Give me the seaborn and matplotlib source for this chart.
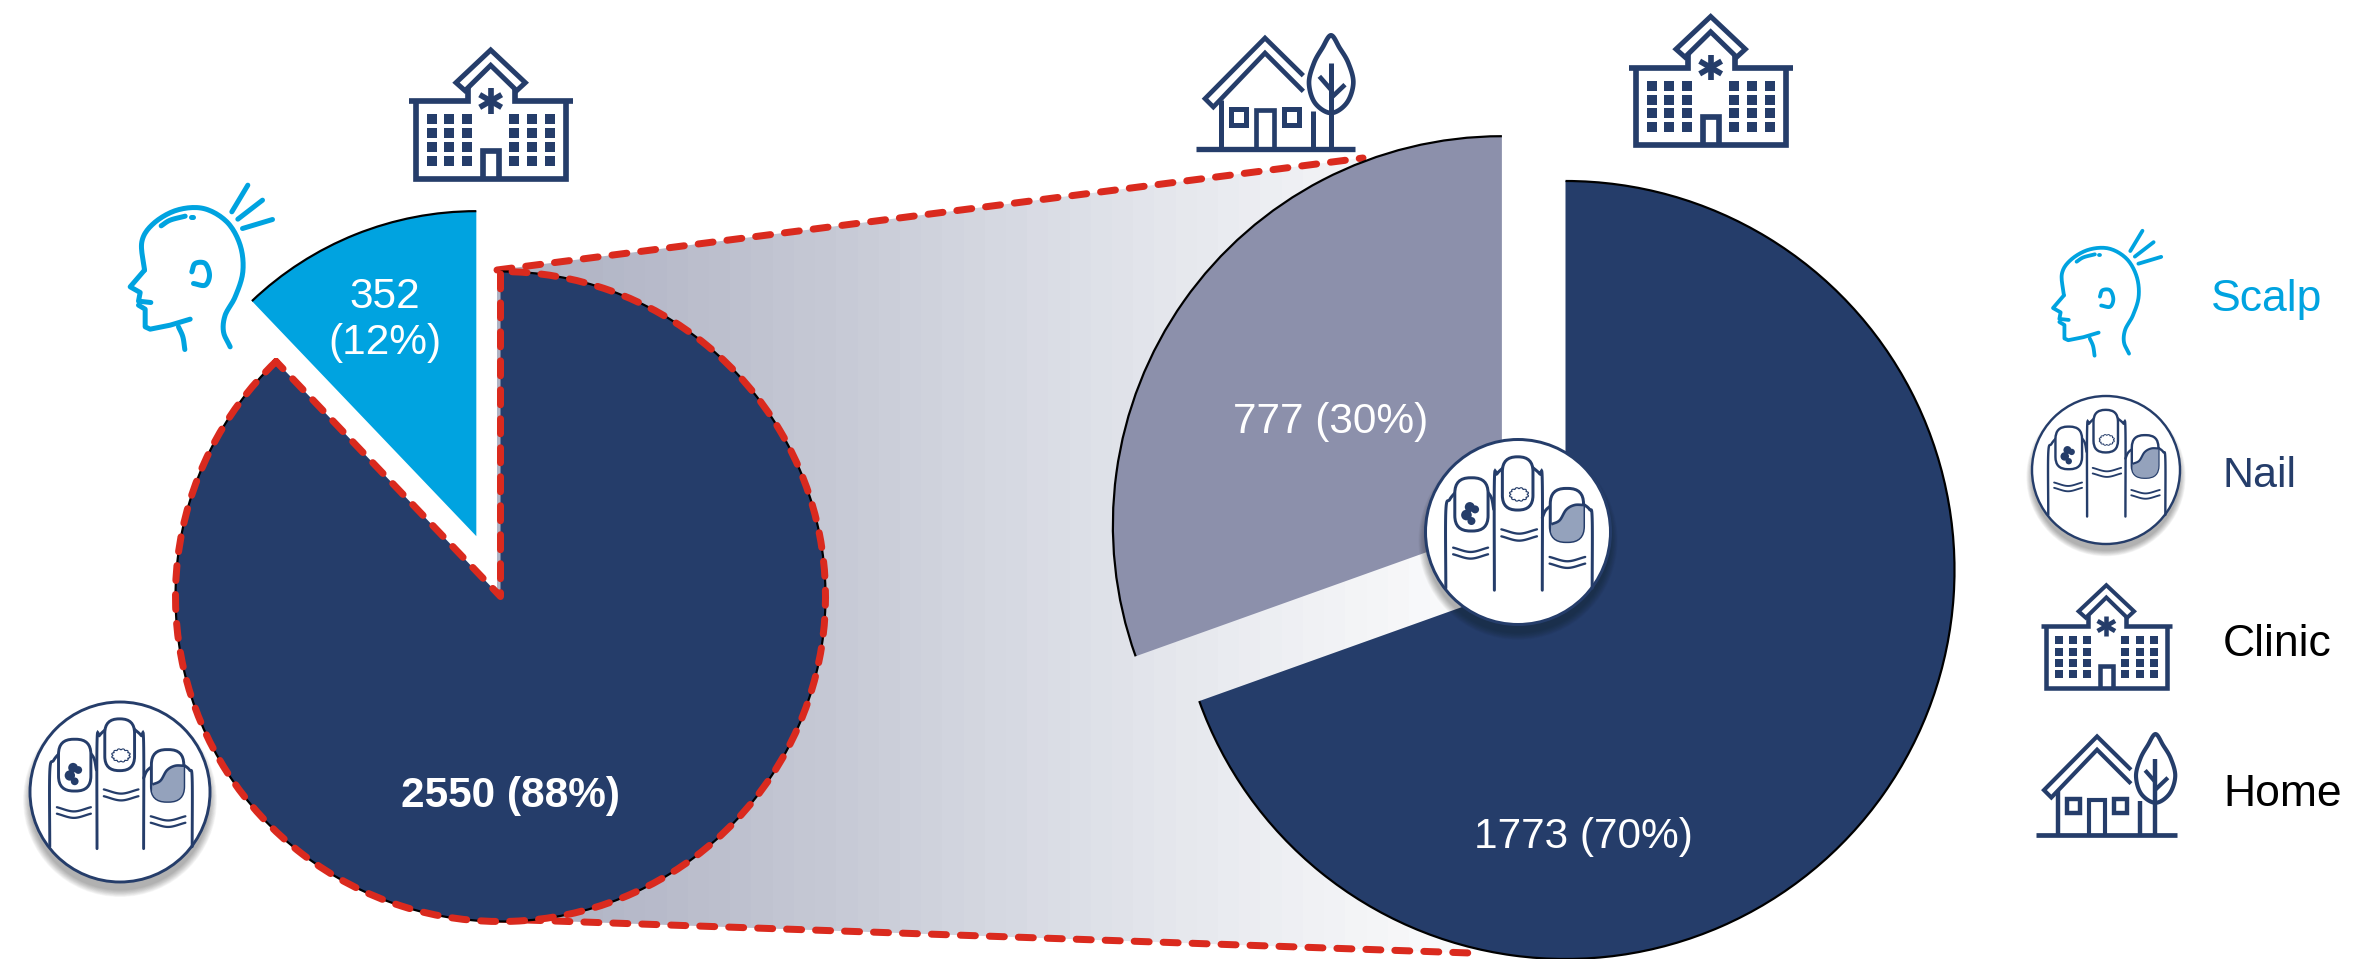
import numpy as np
import matplotlib
matplotlib.use("Agg")
import matplotlib.pyplot as plt
import matplotlib.patches as mpatches
from matplotlib.colors import ListedColormap
import seaborn as sns

# Site of infection, then place of treatment for the nail cases
site_names = ["Scalp", "Nail"]
site_counts = [352, 2550]
place_names = ["Clinic", "Home"]
place_counts = [1773, 777]
legend_labels = ["Scalp", "Nail", "Clinic", "Home"]

NAVY = "#253D6A"
CYAN = "#00A3E0"
SLATE = "#8C90AB"
RED = "#DA2A1E"
FILL = "#94A2BC"
band_stops = ["#AEB2C3", "#B9BCCB", "#C7CAD6", "#D6D9E2", "#E5E7ED", "#F2F3F6", "#FDFDFE"]

W, H = 2367, 959
sns.set_theme(style="white", font="Liberation Sans")
fig = plt.figure(figsize=(W / 100, H / 100), dpi=100, facecolor="white")


def px(v):
    return v * 0.72


def pixel_axes(zorder):
    ax = fig.add_axes([0, 0, 1, 1], zorder=zorder)
    ax.set_xlim(0, W)
    ax.set_ylim(H, 0)
    ax.axis("off")
    ax.patch.set_alpha(0)
    return ax


def pie_axes(cx, cy, r):
    span = 1.3
    return fig.add_axes(
        [(cx - span * r) / W, 1 - (cy + span * r) / H, 2 * span * r / W, 2 * span * r / H],
        zorder=2,
    )


def finish_pie(ax, wedges):
    ax.set_xlim(-1.3, 1.3)
    ax.set_ylim(-1.3, 1.3)
    ax.patch.set_alpha(0)
    for w in wedges:
        ax.add_patch(mpatches.Arc(w.center, 2 * w.r, 2 * w.r, theta1=w.theta1, theta2=w.theta2,
                                  color="black", lw=px(2.2)))


def pct(values):
    return [round(100 * v / sum(values)) for v in values]


# ---- connector between the two pies ----
back = pixel_axes(1)
outline = [(497, 270), (1363, 158), (1510, 525), (1565, 570), (1470, 953), (497, 919)]
band = sns.blend_palette(band_stops, n_colors=48)
img = back.imshow(np.linspace(0, 1, 48)[None, :], extent=(497, 1515, 960, 150),
                  cmap=ListedColormap(band), aspect="auto", zorder=1)
img.set_clip_path(mpatches.Polygon(outline, closed=True, transform=back.transData))
back.set_xlim(0, W)
back.set_ylim(H, 0)
RED_LW = 7
dash = (0, (2.14, 2.0))
for a, b in [(outline[0], outline[1]), (outline[5], outline[4])]:
    back.plot([a[0], b[0]], [a[1], b[1]], color=RED, lw=px(RED_LW), linestyle=dash,
              dash_capstyle="round", zorder=2)

# ---- left pie: infection site ----
left = pie_axes(500.5, 596.5, 325)
site_wedges, _ = left.pie(site_counts, colors=[CYAN, NAVY], startangle=90, counterclock=True,
                          explode=[0.2, 0], radius=1, wedgeprops=dict(linewidth=0))
finish_pie(left, site_wedges)
nail_w = site_wedges[1]
left.add_patch(mpatches.Wedge(nail_w.center, nail_w.r, nail_w.theta1, nail_w.theta2, fill=False,
                              edgecolor=RED, lw=px(RED_LW), linestyle=dash, capstyle="round",
                              joinstyle="round", zorder=5))

# ---- right pie: place of treatment for nail cases ----
right = pie_axes(1565.5, 570, 389)
place_wedges, _ = right.pie(place_counts, colors=[NAVY, SLATE], startangle=90, counterclock=False,
                            explode=[0, 0.2], radius=1, wedgeprops=dict(linewidth=0))
finish_pie(right, place_wedges)

# ---- icons and text ----
top = pixel_axes(3)


def catmull(points, closed=False, steps=12):
    p = np.asarray(points, float)
    if closed:
        p = np.vstack([p[-1], p, p[0], p[1]])
    else:
        p = np.vstack([2 * p[0] - p[1], p, 2 * p[-1] - p[-2]])
    out = []
    for i in range(1, len(p) - 2):
        p0, p1, p2, p3 = p[i - 1], p[i], p[i + 1], p[i + 2]
        for t in np.linspace(0, 1, steps, endpoint=False):
            out.append(0.5 * (2 * p1 + (p2 - p0) * t + (2 * p0 - 5 * p1 + 4 * p2 - p3) * t ** 2
                              + (3 * p1 - p0 - 3 * p2 + p3) * t ** 3))
    out.append(p[-2])
    return np.array(out)


class Icon:
    """Draws shapes given in a local design grid onto the pixel axes."""

    def __init__(self, ox, oy, scale, color=NAVY, zorder=10):
        self.ox, self.oy, self.s, self.color, self.z = ox, oy, scale, color, zorder

    def xy(self, pts):
        p = np.asarray(pts, float)
        return np.column_stack([p[:, 0] * self.s + self.ox, p[:, 1] * self.s + self.oy])

    def line(self, pts, lw, cap="butt", smooth=False, join="miter"):
        p = catmull(pts) if smooth else pts
        q = self.xy(p)
        top.plot(q[:, 0], q[:, 1], color=self.color, lw=px(lw * self.s), solid_capstyle=cap,
                 solid_joinstyle=join, zorder=self.z)

    def poly(self, pts, lw=0, face=None, edge=None):
        patch = mpatches.Polygon(self.xy(pts), closed=True, facecolor=face or "none",
                                 edgecolor=edge or "none", lw=px(lw * self.s),
                                 joinstyle="miter", zorder=self.z)
        top.add_patch(patch)
        return patch

    def rect(self, x, y, w, h):
        self.poly([(x, y), (x + w, y), (x + w, y + h), (x, y + h)], face=self.color)

    def round_box(self, x, y, w, h, r, lw, face="white"):
        (qx, qy), = self.xy([(x, y)])
        patch = mpatches.FancyBboxPatch((qx, qy), w * self.s, h * self.s,
                                        boxstyle=f"round,pad=0,rounding_size={r * self.s}",
                                        facecolor=face, edgecolor=self.color,
                                        lw=px(lw * self.s), zorder=self.z)
        top.add_patch(patch)
        return patch


def hospital(left_x, top_y, k=1.0):
    ic = Icon(left_x - 27 * k / 3, top_y - 48 * k / 3, k / 3)
    ic.line([(47, 213), (47, 446), (498, 446), (498, 213)], 17)
    ic.line([(27, 213), (204, 213), (204, 170)], 17)
    ic.line([(518, 213), (344, 213), (344, 170)], 17)
    ic.poly([(272, 60), (376, 158), (350, 182), (272, 106), (195, 182), (168, 158)],
            lw=15, face="white", edge=NAVY)
    for ang in (90, 30, 150):
        c, sn = np.cos(np.radians(ang)), np.sin(np.radians(ang))
        ic.line([(272 - 38 * c, 213 - 38 * sn), (272 + 38 * c, 213 + 38 * sn)], 17)
    for cx in (95, 148, 201, 343, 397, 450):
        for cy in (267, 309, 350, 392):
            ic.rect(cx - 15, cy - 15, 30, 30)
    ic.line([(248, 446), (248, 362), (297, 362), (297, 446)], 17)


def house(left_x, top_y, k=1.0):
    ic = Icon(left_x - 18 * k / 3, top_y - 40 * k / 3, k / 3)
    ic.line([(18, 388), (495, 388)], 16)
    ic.line([(340, 168), (225, 55), (45, 237), (70, 262), (225, 100), (340, 215)], 14)
    ic.line([(92, 240), (92, 388)], 15)
    ic.line([(370, 275), (370, 388)], 15)
    ic.line([(423, 130), (423, 388)], 15)
    ic.line([(388, 170), (423, 210)], 14)
    ic.line([(465, 195), (423, 235)], 14)
    ic.poly([(123, 268), (168, 268), (168, 315), (123, 315)], lw=15, edge=NAVY)
    ic.poly([(283, 268), (328, 268), (328, 315), (283, 315)], lw=15, edge=NAVY)
    ic.line([(198, 388), (198, 270), (252, 270), (252, 388)], 14)
    ic.poly(catmull([(423, 47), (397, 85), (372, 130), (357, 190), (375, 250), (423, 280),
                     (470, 250), (490, 190), (475, 130), (449, 85)], closed=True), lw=14, edge=NAVY)


def head(left_x, top_y, k=1.0):
    ic = Icon(left_x - 52 * k / 3, top_y - 45 * k / 3, k / 3, color=CYAN)
    ic.line([(360, 535), (340, 490), (345, 440), (375, 385), (398, 310), (390, 230), (350, 160),
             (280, 120), (200, 125), (130, 165), (95, 220), (103, 305)], 15, "round", smooth=True)
    ic.line([(103, 305), (60, 355), (90, 372), (85, 398), (122, 402)], 15, "round", join="round")
    ic.line([(85, 410), (105, 422), (105, 475), (120, 482), (180, 470), (240, 452)], 15, "round",
            join="round")
    ic.line([(205, 475), (218, 505), (224, 543)], 15, "round", smooth=True)
    ic.line([(153, 172), (180, 155), (225, 143)], 15, "round", smooth=True)
    ic.line([(243, 145), (247, 145)], 15, "round")
    ic.line([(245, 310), (255, 285), (285, 285), (298, 320), (285, 350), (250, 345)], 15, "round",
            smooth=True)
    ic.line([(365, 130), (413, 50)], 15, "round")
    ic.line([(383, 152), (457, 95)], 15, "round")
    ic.line([(397, 180), (487, 153)], 15, "round")


def nail_badge(cx, cy, r):
    # soft shadow falling below the disc
    for i in range(12):
        top.add_patch(mpatches.Circle((cx, cy + 0.09 * r), r + 0.007 * r * (11 - i),
                                      facecolor="#1a1a1a", edgecolor="none", alpha=0.03, zorder=9))
    k = r / 92.7 / 3
    ic = Icon(cx - 295 * k, cy - 303 * k, k, zorder=10)
    top.add_patch(mpatches.Circle((cx, cy), r, facecolor="white", edgecolor=NAVY,
                                  lw=px(9 * k), zorder=10))
    w = 9
    ic.line([(78, 472), (78, 240), (90, 205), (112, 178)], w, "round", smooth=True)
    ic.line([(200, 178), (215, 200), (222, 235)], w, "round", smooth=True)
    ic.line([(224, 478), (224, 150), (232, 128), (252, 108)], w, "round", smooth=True)
    ic.line([(338, 108), (360, 128), (368, 150), (368, 478)], w, "round", smooth=True)
    ic.line([(368, 260), (378, 238), (396, 222)], w, "round", smooth=True)
    ic.line([(490, 218), (510, 235), (518, 262), (518, 472)], w, "round", smooth=True)
    ic.round_box(105, 140, 100, 160, 46, w)
    ic.round_box(248, 77, 92, 160, 44, w)
    box = ic.round_box(392, 172, 100, 160, 46, w)
    curve = [(395, 280), (420, 268), (440, 236), (465, 222), (495, 222)]
    fill = ic.poly(np.vstack([catmull(curve), [(495, 340), (392, 340)]]), face=FILL)
    fill.set_clip_path(box)
    ic.line(curve, w - 1, smooth=True)
    for bx, by, br in [(150, 228, 15), (140, 252, 16), (155, 270, 12), (166, 235, 12)]:
        top.add_patch(mpatches.Circle(tuple(ic.xy([(bx, by)])[0]), br * k, facecolor=NAVY,
                                      edgecolor="none", zorder=10))
    ang = np.linspace(0, 2 * np.pi, 96, endpoint=False)
    bump = 1 + 0.22 * np.abs(np.sin(6 * ang))
    ic.poly(np.column_stack([298 + 24 * bump * np.cos(ang), 190 + 17 * bump * np.sin(ang)]),
            lw=3.5, face="white", edge=NAVY)
    for x0, x1, y0 in [(100, 205, 350), (100, 205, 370), (245, 352, 295), (245, 352, 316),
                       (390, 497, 378), (390, 497, 398)]:
        ic.line([(x0, y0), ((x0 + x1) / 2, y0 + 13), (x1, y0)], 7, "round", smooth=True)


hospital(409, 46)
hospital(1629, 12.5)
hospital(2041, 582, 0.8)
house(1196, 33)
house(2036, 732, 0.885)
head(127.5, 183.5)
head(2051, 229.5, 0.76)
nail_badge(120, 792, 90)
nail_badge(1518, 532, 92.5)
nail_badge(2106, 470, 74)

site_pct = pct(site_counts)
place_pct = pct(place_counts)
text_kw = dict(ha="center", va="center", color="white", fontsize=30.5, zorder=8)
top.text(385, 320, f"{site_counts[0]}\n({site_pct[0]}%)", linespacing=1.2, **text_kw)
top.text(510.5, 796, f"{site_counts[1]} ({site_pct[1]}%)", fontweight="bold", **text_kw)
top.text(1583.5, 837, f"{place_counts[0]} ({place_pct[0]}%)", **text_kw)
top.text(1331, 422, f"{place_counts[1]} ({place_pct[1]}%)", **text_kw)

legend_rows = zip(legend_labels, [2211, 2223, 2223, 2223], [300, 476, 644, 794],
                  [CYAN, NAVY, "black", "black"])
for name, x, y, col in legend_rows:
    top.text(x, y, name, ha="left", va="center", color=col, fontsize=32 if name != "Nail" else 31)

fig.savefig("out.png", dpi=100, facecolor="white")
